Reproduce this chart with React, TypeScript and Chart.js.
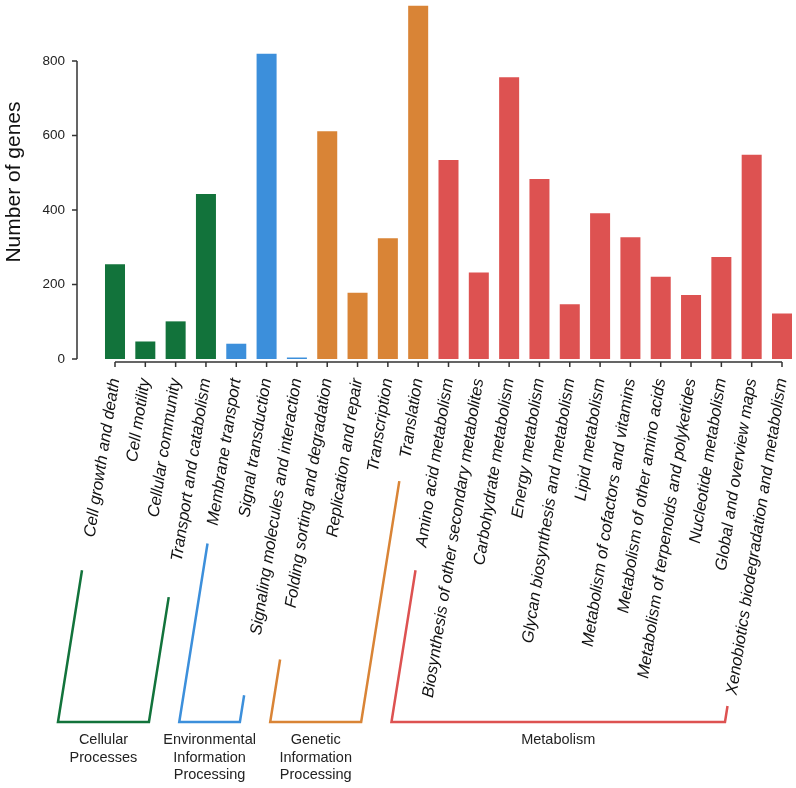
import { useEffect, useRef } from "react";
import { Chart, registerables } from "chart.js";

Chart.register(...registerables);

const categories = [
  "Cell growth and death",
  "Cell motility",
  "Cellular community",
  "Transport and catabolism",
  "Membrane transport",
  "Signal transduction",
  "Signaling molecules and interaction",
  "Folding sorting and degradation",
  "Replication and repair",
  "Transcription",
  "Translation",
  "Amino acid metabolism",
  "Biosynthesis of other secondary metabolites",
  "Carbohydrate metabolism",
  "Energy metabolism",
  "Glycan biosynthesis and metabolism",
  "Lipid metabolism",
  "Metabolism of cofactors and vitamins",
  "Metabolism of other amino acids",
  "Metabolism of terpenoids and polyketides",
  "Nucleotide metabolism",
  "Global and overview maps",
  "Xenobiotics biodegradation and metabolism",
];

const geneCounts = [254, 47, 101, 443, 41, 819, 4, 611, 178, 324, 948, 534, 232, 756, 483, 147, 391, 327, 221, 172, 274, 548, 122];

const groupNames = [
  ["Cellular", "Processes"],
  ["Environmental", "Information", "Processing"],
  ["Genetic", "Information", "Processing"],
  ["Metabolism"],
];
const groupSizes = [4, 3, 4, 12];
const groupColors = ["#12733B", "#3C8FDB", "#D98436", "#DD5251"];

const yTicks = [0, 200, 400, 600, 800];
const yMax = 950;

const FONT = "'Liberation Sans', Arial, Helvetica, sans-serif";

const barColors: string[] = [];
groupSizes.forEach((n, g) => {
  for (let i = 0; i < n; i++) barColors.push(groupColors[g]);
});

const axesAndBrackets = {
  id: "axesAndBrackets",
  afterDraw(chart: any) {
    const { ctx, chartArea, scales } = chart;
    const xs = scales.x;
    const ys = scales.y;
    ctx.save();
    // y axis line + ticks
    const yAxisX = chartArea.left - 38;
    ctx.strokeStyle = "#333";
    ctx.lineWidth = 1.5;
    ctx.beginPath();
    ctx.moveTo(yAxisX, ys.getPixelForValue(yTicks[yTicks.length - 1]));
    ctx.lineTo(yAxisX, ys.getPixelForValue(0));
    yTicks.forEach((v) => {
      const py = ys.getPixelForValue(v);
      ctx.moveTo(yAxisX - 5, py);
      ctx.lineTo(yAxisX, py);
    });
    ctx.stroke();

    // x axis line + ticks
    const axisY = chartArea.bottom + 3;
    ctx.beginPath();
    ctx.moveTo(xs.getPixelForValue(0), axisY);
    ctx.lineTo(xs.getPixelForValue(categories.length - 1), axisY);
    categories.forEach((_, i) => {
      const px = xs.getPixelForValue(i);
      ctx.moveTo(px, axisY);
      ctx.lineTo(px, axisY + 5);
    });
    ctx.stroke();

    // group brackets
    const k = 1 / Math.tan((81 * Math.PI) / 180);
    const depth = 360;
    const baseY = axisY + depth;
    const armDy = (i: number) => Math.min(21 + 8.92 * categories[i].length, depth - 16);
    let start = 0;
    groupSizes.forEach((n, g) => {
      const i0 = start;
      const i1 = start + n - 1;
      start += n;
      const xl = xs.getPixelForValue(i0);
      const xr = xs.getPixelForValue(i1);
      const dl = armDy(i0);
      const dr = armDy(i1);
      ctx.strokeStyle = groupColors[g];
      ctx.lineWidth = 2.5;
      ctx.lineJoin = "miter";
      ctx.beginPath();
      ctx.moveTo(xl - dl * k, axisY + dl);
      ctx.lineTo(xl - depth * k, baseY);
      ctx.lineTo(xr - depth * k, baseY);
      ctx.lineTo(xr - dr * k, axisY + dr);
      ctx.stroke();

      const cx = (xl + xr) / 2 - depth * k;
      ctx.fillStyle = "#222";
      ctx.font = `14.5px ${FONT}`;
      ctx.textAlign = "center";
      ctx.textBaseline = "middle";
      groupNames[g].forEach((line, j) => ctx.fillText(line, cx, baseY + 18 + j * 17.5));
    });
    ctx.restore();
  },
};

export default function App() {
  const ref = useRef<HTMLCanvasElement | null>(null);
  useEffect(() => {
    if (!ref.current) return;
    const chart = new Chart(ref.current, {
      type: "bar",
      data: {
        labels: categories,
        datasets: [
          {
            data: geneCounts,
            backgroundColor: barColors,
            borderWidth: 0,
            categoryPercentage: 1,
            barPercentage: 0.66,
            clip: false,
          } as any,
        ],
      },
      options: {
        animation: false,
        responsive: false,
        devicePixelRatio: 1,
        layout: { padding: { top: 5, right: 14, left: 0, bottom: 0 } },
        plugins: { legend: { display: false }, tooltip: { enabled: false } },
        scales: {
          x: {
            offset: false,
            grid: { display: false, drawTicks: false, offset: false },
            border: { display: false },
            ticks: {
              autoSkip: false,
              maxRotation: 81,
              minRotation: 81,
              padding: 18,
              color: "#111",
              font: { family: FONT, size: 16.5, style: "italic" },
            },
            afterFit(s: any) {
              s.height = 429;
              s.paddingLeft = 0;
              s.paddingRight = 0;
            },
          },
          y: {
            min: 0,
            max: yMax,
            grid: { display: false, drawTicks: false },
            border: { display: false },
            ticks: {
              stepSize: 200,
              includeBounds: false,
              padding: 50,
              color: "#222",
              font: { family: FONT, size: 13.5 },
            },
            title: {
              display: true,
              text: "Number of genes",
              color: "#111",
              font: { family: FONT, size: 21 },
              padding: { top: 2, bottom: 0 },
            },
            afterFit(s: any) {
              s.width = 115;
              s.paddingTop = 0;
              s.paddingBottom = 0;
            },
          },
        },
      } as any,
      plugins: [axesAndBrackets],
    });
    return () => chart.destroy();
  }, []);
  return (
    <canvas
      ref={ref}
      width={796}
      height={788}
      style={{ position: "fixed", left: 0, top: 0, width: 796, height: 788, display: "block" }}
    />
  );
}
